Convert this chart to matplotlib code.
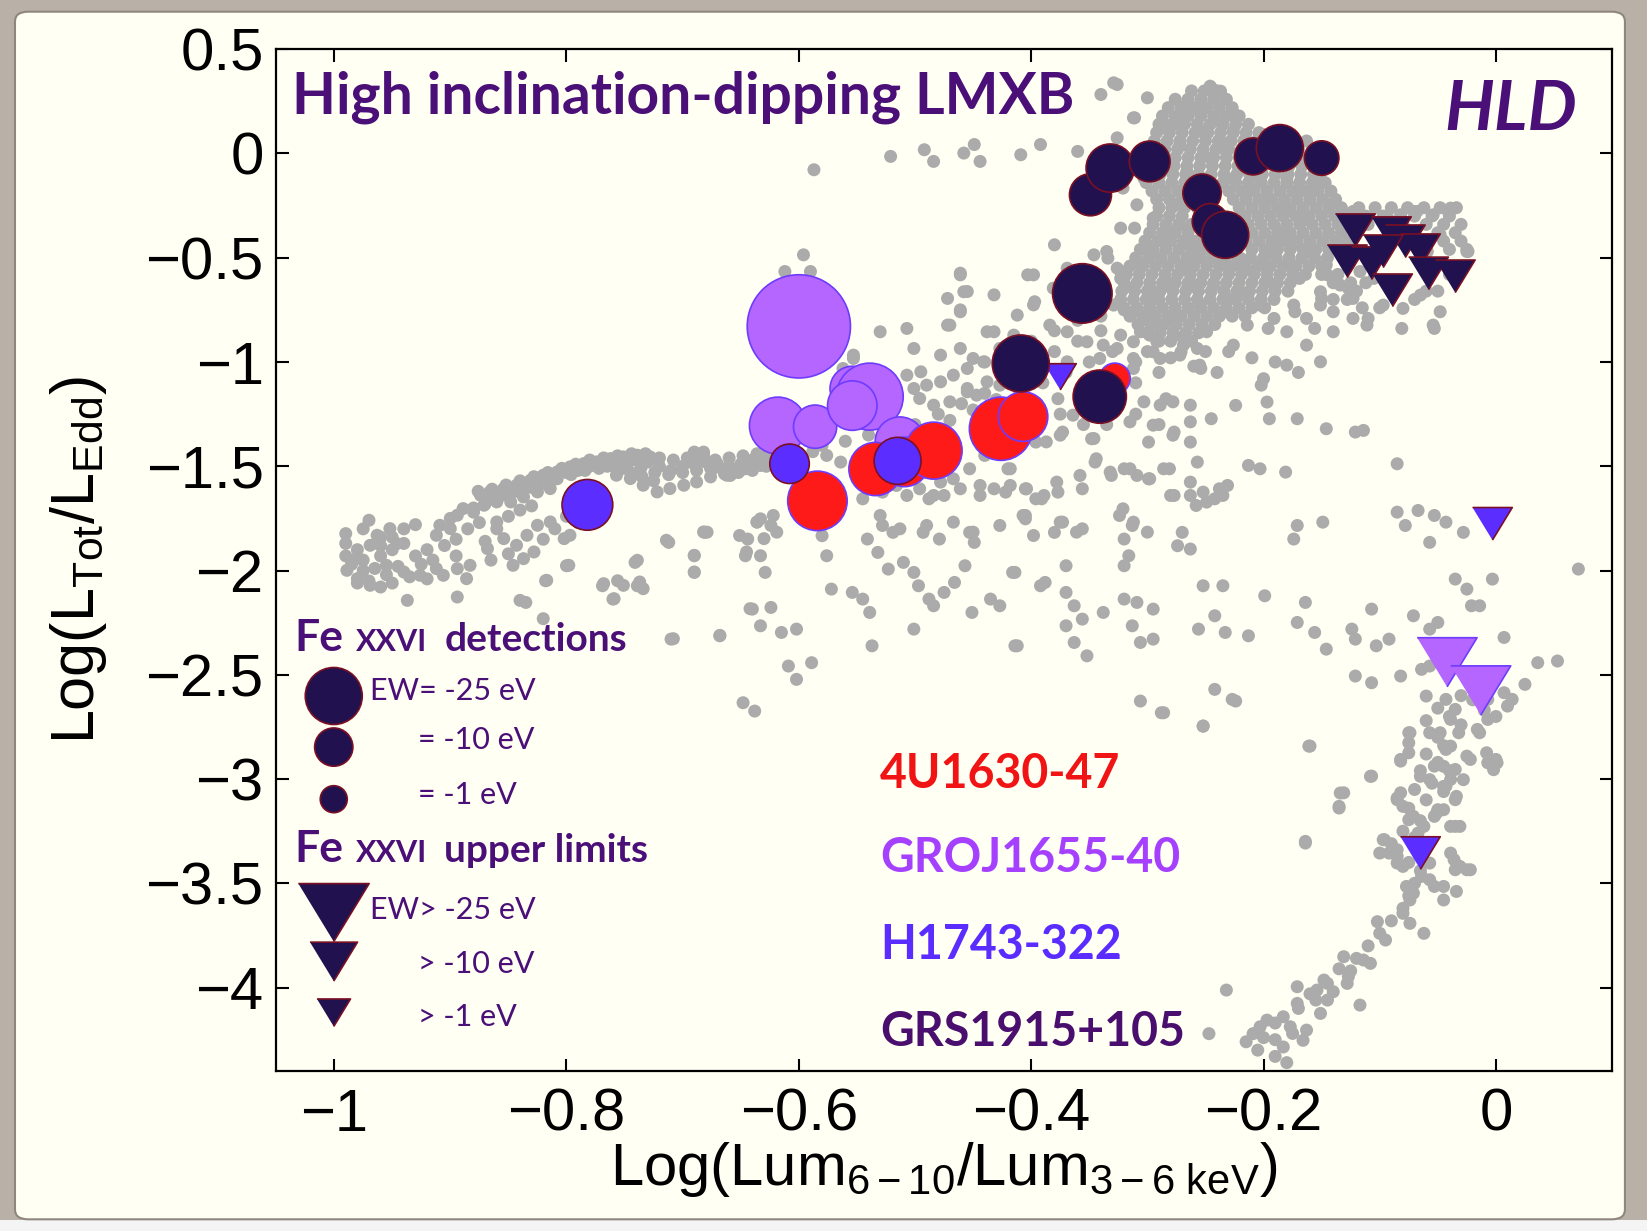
import matplotlib
matplotlib.use("Agg")
import matplotlib.pyplot as plt
from matplotlib.patches import FancyBboxPatch, Rectangle
import numpy as np

plt.rcParams['font.family'] = ['Liberation Sans', 'DejaVu Sans']
plt.rcParams['mathtext.fontset'] = 'custom'
plt.rcParams['mathtext.rm'] = 'Liberation Sans'
plt.rcParams['mathtext.it'] = 'Liberation Sans:italic'

# ---- background sample (all observations) ----
bg_x = [
    # soft-state arc
    -0.874, -0.866, -0.854, -0.843, -0.831, -0.820, -0.808, -0.797, -0.785, -0.774,
    -0.762, -0.751, -0.739, -0.728, -0.690, -0.682, -0.871, -0.860, -0.848, -0.837,
    -0.825, -0.814, -0.757, -0.745, -0.734, -0.722, -0.711, -0.699, -0.688, -0.676,
    -0.662, -0.647, -0.636,
    -0.86, -0.85, -0.84, -0.83, -0.82, -0.81, -0.80, -0.79, -0.78, -0.77,
    -0.76, -0.75, -0.74, -0.73, -0.72, -0.71, -0.70, -0.69, -0.68, -0.67,
    -0.66, -0.65, -0.64, -0.63, -0.62, -0.755, -0.745, -0.735, -0.725, -0.765,
    # left clump
    -0.990, -0.970, -0.963, -0.952, -0.946, -0.969, -0.983, -0.989, -0.980, -0.969,
    -0.960, -0.955, -0.940, -0.926, -0.912, -0.906, -0.894, -0.886, -0.883, -0.909,
    -0.900, -0.894, -0.889, -0.912, -0.868, -0.860, -0.854, -0.843, -0.834, -0.828,
    -0.846, -0.837, -0.825, -0.814, -0.802, -0.797, -0.937, -0.894, -0.840, -0.817,
    -0.798, -0.768, -0.759, -0.751, -0.739, -0.737, -0.734, -0.714, -0.690, -0.690,
    -0.682, -0.645, -0.642, -0.636, -0.630, -0.708, -0.668, -0.820,
    -0.975, -0.965, -0.955, -0.945, -0.985, -0.970, -0.930, -0.920, -0.960, -0.950,
    -0.940, -0.930, -0.900, -0.880, -0.870,
    # middle scatter
    -0.690, -0.686, -0.664, -0.646, -0.633, -0.633, -0.624, -0.644, -0.633, -0.646,
    -0.629, -0.640, -0.624, -0.633, -0.615, -0.602, -0.609, -0.602, -0.589, -0.648,
    -0.638, -0.668, -0.710, -0.690, -0.690, -0.712, -0.681, -0.741, -0.756, -0.769,
    -0.739, -0.760, -0.818, -0.800, -0.835, -0.580, -0.576, -0.572, -0.554, -0.545,
    -0.539, -0.541, -0.528, -0.519, -0.532, -0.523, -0.510, -0.501, -0.497, -0.488,
    -0.484, -0.475, -0.479, -0.493, -0.501, -0.537, -0.453, -0.449, -0.457, -0.466,
    -0.451, -0.435, -0.427, -0.414, -0.422, -0.405, -0.414, -0.392, -0.396, -0.427,
    -0.444, -0.453, -0.466, -0.484, -0.501, -0.515, -0.528, -0.545, -0.488, -0.475,
    -0.440, -0.414, -0.396,
    # rising branch
    -0.596, -0.612, -0.590, -0.461, -0.455, -0.461, -0.470, -0.432, -0.398, -0.381,
    -0.398, -0.369, -0.346, -0.326, -0.312, -0.298, -0.283, -0.269, -0.260, -0.278,
    -0.298, -0.312, -0.326, -0.341, -0.352, -0.369, -0.384, -0.398, -0.415, -0.427,
    -0.441, -0.455, -0.467, -0.478, -0.490, -0.501, -0.507, -0.496, -0.484, -0.470,
    -0.455, -0.447, -0.438, -0.427, -0.369, -0.289, -0.272, -0.257, -0.312, -0.303,
    -0.289, -0.278, -0.263, -0.263, -0.278, -0.295, -0.315, -0.346, -0.387, -0.375,
    -0.364, -0.344, -0.358, -0.378, -0.389, -0.404, -0.418, -0.418, -0.432, -0.444,
    -0.461, -0.467, -0.478, -0.484, -0.496, -0.507, -0.516, -0.530, -0.513, -0.490,
    -0.467, -0.450, -0.407, -0.375, -0.361, -0.321, -0.312, -0.300, -0.280, -0.263,
    -0.257, -0.398, -0.332, -0.315, -0.298, -0.286, -0.682, -0.674, -0.659, -0.645,
    -0.630, -0.636, -0.622, -0.619, -0.651, -0.679, -0.576, -0.564, -0.553, -0.562,
    -0.570, -0.450, -0.461, -0.412, -0.432,
    -0.58, -0.56, -0.54, -0.50, -0.48, -0.46, -0.44, -0.42, -0.40, -0.38,
    -0.36, -0.34, -0.32, -0.30, -0.33, -0.31, -0.29, -0.27, -0.25, -0.23,
    -0.21, -0.19, -0.17, -0.20,
    # upper sparse points and bright cluster
    -0.587, -0.521, -0.492, -0.484, -0.458, -0.449, -0.444, -0.409, -0.392, -0.360,
    -0.329, -0.340, -0.311, -0.245, -0.277, -0.288, -0.265, -0.254, -0.225, -0.237,
    -0.461, -0.472, -0.458, -0.461, -0.472, -0.438, -0.403, -0.397, -0.380, -0.334,
    -0.311, -0.323, -0.294, -0.300, -0.277, -0.265, -0.254, -0.219, -0.231, -0.196,
    -0.173, -0.156, -0.196, -0.150, -0.127, -0.110, -0.081, -0.053, -0.024, -0.041,
    -0.070, -0.093, -0.145, -0.185, -0.162, -0.271, -0.254, -0.202, -0.455, -0.495,
    -0.501, -0.426, -0.478, -0.507, -0.530, -0.553,
    -0.326, -0.246, -0.312, -0.286, -0.266, -0.255, -0.240, -0.226, -0.232, -0.220,
    -0.203, -0.180, -0.169, -0.163, -0.180, -0.197, -0.212, -0.232, -0.246, -0.272,
    -0.266, -0.275, -0.272, -0.263, -0.269, -0.260, -0.255, -0.249, -0.232, -0.220,
    -0.209, -0.197, -0.186, -0.174, -0.157, -0.146, -0.134, -0.151, -0.169, -0.180,
    -0.191, -0.203, -0.214, -0.226, -0.191, -0.174, -0.163, -0.180, -0.203, -0.220,
    -0.237, -0.243, -0.237, -0.255, -0.283, -0.295, -0.306, -0.323, -0.329, -0.312,
    -0.295, -0.283, -0.289, -0.306, -0.323, -0.278, -0.269, -0.255, -0.295, -0.312,
    -0.338, -0.180, -0.163, -0.140, -0.123, -0.111, -0.097, -0.080, -0.065, -0.059,
    -0.048, -0.082, -0.068, -0.054, -0.039, -0.048, -0.025, -0.054, -0.157, -0.143,
    -0.134, -0.123, -0.157, -0.151, -0.212, -0.191, -0.200, -0.237, -0.275, -0.300,
    -0.326, -0.309, -0.323, -0.335, -0.295, -0.303, -0.321, -0.151, -0.140, -0.151,
    -0.117, -0.105, -0.123,
    # hard branch towards the right
    -0.420, -0.405, -0.391, -0.377, -0.356, -0.345, -0.348, -0.331, -0.320, -0.309,
    -0.299, -0.281, -0.277, -0.263, -0.252, -0.242, -0.231, -0.213, -0.203, -0.181,
    -0.195, -0.171, -0.146, -0.121, -0.114, -0.085, -0.405, -0.373, -0.299, -0.277,
    -0.263, -0.245, -0.224, -0.197, -0.405, -0.380, -0.373, -0.356, -0.324, -0.313,
    -0.320, -0.316, -0.320, -0.270, -0.274, -0.263, -0.238, -0.235, -0.258, -0.249,
    -0.171, -0.174, -0.149, -0.416, -0.388, -0.370, -0.370, -0.363, -0.356, -0.370,
    -0.363, -0.352, -0.412, -0.338, -0.320, -0.309, -0.295, -0.313, -0.306, -0.295,
    -0.256, -0.242, -0.233, -0.252, -0.235, -0.213, -0.199, -0.171, -0.164, -0.156,
    -0.146, -0.124, -0.107, -0.121, -0.103, -0.092, -0.121, -0.107, -0.082, -0.071,
    -0.085, -0.067, -0.053, -0.043, -0.028, -0.057, -0.078, -0.035, -0.003, -0.025,
    -0.021, -0.014, 0.007, -0.050, -0.057, -0.064, -0.057, 0.036, 0.053, 0.071,
    0.025, -0.060, -0.043, -0.035, -0.007, 0.007, 0.014, -0.007, -0.014, -0.032,
    -0.050, -0.075, -0.075, -0.082, -0.043, -0.053, -0.039, -0.035, -0.025, -0.007,
    0.000, -0.107, -0.131, -0.135, -0.082, -0.085, -0.075, -0.067, -0.053, -0.050,
    -0.043, -0.035, -0.035, -0.096, -0.092, -0.085, -0.057, -0.039, -0.035, -0.025,
    -0.064, -0.053, -0.071, -0.164, -0.160, -0.227, -0.252, -0.242, -0.306, -0.288,
    -0.284, -0.377,
    # faint tail at the bottom
    -0.286, -0.252, -0.161, -0.224, -0.074, -0.057, -0.075, -0.082, -0.108, -0.134,
    -0.135, -0.065, -0.057, -0.045, -0.045, -0.034, -0.028, -0.022, -0.008, 0.001,
    -0.002, -0.039, -0.048, -0.039, -0.016, -0.085, -0.080, -0.071, -0.062, -0.051,
    -0.045, -0.039, -0.031, -0.097, -0.100, -0.085, -0.080, -0.077, -0.074, -0.080,
    -0.074, -0.057, -0.045, -0.045, -0.036, -0.031, -0.022, -0.034, -0.062, -0.102,
    -0.095, -0.131, -0.114, -0.108, -0.127, -0.128, -0.148, -0.154, -0.171, -0.145,
    -0.151, -0.171, -0.183, -0.197, -0.209, -0.203, -0.177, -0.163, -0.166, -0.183,
    -0.117, -0.232, -0.247, -0.164, -0.205, -0.190, -0.180, -0.215,
]
bg_y = [
    -1.639, -1.623, -1.607, -1.591, -1.567, -1.543, -1.527, -1.503, -1.487, -1.479,
    -1.463, -1.455, -1.447, -1.455, -1.439, -1.447, -1.687, -1.671, -1.671, -1.647,
    -1.623, -1.607, -1.543, -1.559, -1.591, -1.623, -1.607, -1.591, -1.575, -1.551,
    -1.543, -1.511, -1.495,
    -1.65, -1.63, -1.62, -1.60, -1.58, -1.56, -1.53, -1.52, -1.50, -1.49,
    -1.48, -1.47, -1.47, -1.48, -1.50, -1.52, -1.50, -1.49, -1.48, -1.49,
    -1.50, -1.49, -1.47, -1.46, -1.45, -1.52, -1.53, -1.55, -1.57, -1.50,
    -1.823, -1.759, -1.831, -1.799, -1.871, -1.879, -1.951, -1.999, -2.039, -2.071,
    -2.079, -1.975, -2.007, -2.023, -1.991, -2.023, -1.991, -2.039, -1.975, -1.783,
    -1.799, -1.735, -1.703, -1.831, -1.895, -1.767, -1.847, -1.879, -1.831, -1.911,
    -1.975, -1.943, -1.783, -1.767, -1.847, -1.831, -2.143, -2.127, -2.143, -2.047,
    -1.975, -2.063, -2.135, -2.071, -1.951, -2.055, -2.087, -1.855, -1.927, -2.007,
    -1.815, -1.911, -2.183, -1.767, -1.847, -2.327, -2.311, -2.231,
    -1.95, -1.99, -2.02, -1.98, -1.97, -2.05, -1.93, -1.90, -1.88, -1.84,
    -1.80, -1.78, -1.75, -1.72, -1.68,
    -1.432, -1.456, -1.536, -1.512, -1.496, -1.752, -1.784, -1.849, -1.929, -1.929,
    -2.009, -2.185, -2.177, -2.265, -2.297, -2.281, -2.458, -2.522, -2.442, -2.634,
    -2.674, -2.313, -2.329, -1.929, -2.009, -1.865, -1.817, -1.961, -2.049, -2.073,
    -2.073, -2.137, -2.049, -1.977, -2.153, -1.833, -1.929, -2.089, -2.105, -2.137,
    -2.201, -1.849, -1.784, -1.817, -1.913, -1.993, -1.961, -2.009, -2.073, -2.137,
    -2.169, -2.105, -1.849, -1.817, -2.281, -2.361, -1.817, -1.865, -1.977, -2.057,
    -2.201, -2.137, -2.169, -2.361, -1.624, -1.752, -2.009, -2.073, -1.656, -1.784,
    -1.592, -1.512, -1.464, -1.512, -1.560, -1.576, -1.624, -1.656, -1.656, -1.640,
    -1.448, -1.416, -1.384,
    -0.486, -0.566, -0.566, -0.574, -0.662, -0.750, -0.823, -0.855, -0.582, -0.646,
    -0.726, -0.550, -0.486, -0.550, -0.646, -0.742, -0.614, -0.550, -0.502, -0.807,
    -0.871, -0.903, -0.935, -0.983, -0.903, -0.855, -0.823, -0.935, -0.871, -0.935,
    -0.999, -1.031, -1.063, -1.095, -1.111, -1.127, -1.063, -1.175, -1.207, -1.191,
    -1.127, -1.159, -1.095, -1.111, -0.999, -0.983, -0.967, -0.935, -1.031, -1.191,
    -1.207, -1.191, -1.207, -1.287, -1.351, -1.303, -1.287, -1.367, -1.383, -1.351,
    -1.255, -1.464, -1.544, -1.576, -1.640, -1.608, -1.592, -1.512, -1.608, -1.640,
    -1.608, -1.560, -1.576, -1.640, -1.608, -1.640, -1.592, -1.736, -1.800, -1.784,
    -1.768, -1.816, -1.736, -1.768, -1.816, -1.704, -1.768, -1.816, -1.640, -1.576,
    -1.480, -1.832, -1.528, -1.512, -1.560, -1.512, -1.432, -1.512, -1.544, -1.496,
    -1.432, -1.768, -1.736, -1.816, -1.832, -1.816, -1.448, -1.480, -0.983, -1.031,
    -0.935, -0.983, -0.935, -0.775, -0.678,
    -1.40, -1.38, -1.35, -1.30, -1.25, -1.20, -1.15, -1.10, -1.05, -0.95,
    -0.90, -0.85, -0.75, -0.80, -0.95, -1.00, -0.90, -0.88, -0.95, -0.95,
    -0.98, -1.00, -1.05, -1.08,
    -0.078, -0.014, 0.018, -0.038, 0.002, 0.043, -0.038, -0.006, 0.043, 0.010,
    0.339, 0.283, 0.171, 0.315, 0.139, -0.006, 0.235, 0.107, 0.187, 0.058,
    -0.582, -0.695, -0.663, -0.759, -0.823, -0.855, -0.582, -0.711, -0.438, -0.502,
    -0.358, -0.566, -0.663, -0.438, -0.374, -0.631, -0.470, -0.534, -0.695, -0.615,
    -0.759, -0.839, -0.839, -0.695, -0.647, -0.791, -0.839, -0.839, -0.470, -0.278,
    -0.278, -0.310, -0.582, -0.374, -0.470, -0.951, -1.031, -1.111, -1.143, -1.047,
    -0.935, -0.983, -0.967, -0.839, -0.855, -0.967,
    0.331, 0.323, 0.171, 0.139, 0.235, 0.203, 0.155, 0.107, 0.010, -0.070,
    -0.118, -0.118, -0.182, -0.310, -0.278, -0.214, -0.166, -0.118, -0.022, 0.042,
    -0.086, -0.246, -0.342, -0.438, -0.534, -0.631, -0.727, -0.855, -0.759, -0.663,
    -0.566, -0.470, -0.390, -0.438, -0.470, -0.534, -0.631, -0.663, -0.599, -0.534,
    -0.631, -0.727, -0.823, -0.919, -0.791, -0.727, -0.791, -0.855, -0.534, -0.502,
    -0.534, -0.631, -0.406, -0.310, -0.406, -0.470, -0.534, -0.599, -0.727, -0.759,
    -0.695, -0.631, -0.823, -0.855, -0.871, -0.791, -0.919, -1.015, -0.951, -0.983,
    -0.919, -1.015, -0.919, -0.759, -0.791, -0.823, -0.727, -0.743, -0.679, -0.470,
    -0.759, -0.294, -0.278, -0.294, -0.262, -0.390, -0.470, -0.823, -0.166, -0.246,
    -0.294, -0.278, -0.038, -0.118, 0.010, -0.022, 0.091, 0.299, 0.171, 0.267,
    0.075, -0.246, -0.358, -0.470, -0.310, -0.118, -0.166, -0.727, -0.855, -0.999,
    -0.566, -0.599, -0.695,
    -1.512, -1.608, -1.656, -1.624, -1.608, -1.480, -1.368, -1.544, -1.512, -1.544,
    -1.560, -1.512, -1.640, -1.640, -1.624, -1.656, -1.592, -1.496, -1.512, -1.528,
    -1.272, -1.272, -1.320, -1.336, -1.328, -1.488, -1.352, -1.336, -1.384, -1.336,
    -1.384, -1.272, -1.208, -1.192, -1.736, -1.817, -1.768, -1.800, -1.736, -1.784,
    -1.849, -1.929, -1.977, -1.817, -1.881, -1.897, -1.608, -1.640, -1.688, -1.672,
    -1.784, -1.849, -1.768, -2.009, -2.057, -1.977, -2.105, -2.169, -2.233, -2.265,
    -2.345, -2.409, -2.361, -2.201, -2.137, -2.153, -2.185, -2.265, -2.345, -2.329,
    -2.281, -2.217, -2.297, -2.073, -2.073, -2.313, -2.121, -2.249, -2.153, -2.297,
    -2.377, -2.281, -2.185, -2.329, -2.361, -2.329, -2.506, -2.538, -2.506, -2.217,
    -1.720, -1.712, -1.736, -1.768, -1.817, -1.865, -1.784, -2.041, -2.041, -2.089,
    -2.169, -2.169, -2.321, -2.249, -2.281, -2.474, -2.458, -2.442, -2.434, -1.993,
    -2.546, -2.602, -2.618, -2.666, -2.618, -2.586, -2.618, -2.714, -2.778, -2.778,
    -2.794, -2.778, -2.874, -2.906, -2.858, -2.938, -3.002, -2.954, -2.890, -2.922,
    -2.906, -2.986, -3.066, -3.131, -3.066, -3.099, -3.195, -3.259, -3.179, -3.147,
    -3.034, -3.099, -3.227, -3.291, -3.355, -3.403, -3.403, -3.355, -3.435, -3.435,
    -3.467, -3.515, -3.547, -3.307, -2.842, -2.618, -2.746, -2.570, -2.626, -2.682,
    -1.176, -1.176,
    -2.682, -2.746, -2.842, -2.626, -2.778, -2.778, -2.826, -2.914, -2.987, -3.067,
    -3.139, -2.987, -3.003, -2.939, -3.035, -3.083, -3.003, -2.906, -2.874, -2.922,
    -2.955, -2.842, -2.778, -2.714, -2.762, -3.091, -3.131, -3.179, -3.227, -3.163,
    -3.147, -3.227, -3.227, -3.291, -3.355, -3.339, -3.419, -3.515, -3.580, -3.644,
    -3.692, -3.483, -3.515, -3.580, -3.387, -3.419, -3.435, -3.539, -3.740, -3.684,
    -3.772, -3.852, -3.868, -3.884, -3.948, -3.980, -3.964, -4.012, -3.996, -4.060,
    -4.124, -4.076, -4.140, -4.156, -4.221, -4.188, -4.188, -4.204, -4.253, -4.285,
    -4.084, -4.012, -4.221, -3.299, -4.300, -4.330, -4.360, -4.260,
]

# dense bright/hard cluster, one row of x values per luminosity level
cluster_rows = [
    (0.30, [-0.262, -0.251, -0.240]),
    (0.26, [-0.276, -0.265, -0.254, -0.243, -0.232]),
    (0.22, [-0.282, -0.271, -0.260, -0.249, -0.238, -0.227]),
    (0.18, [-0.287, -0.276, -0.265, -0.254, -0.243, -0.232, -0.221]),
    (0.14, [-0.290, -0.279, -0.268, -0.257, -0.246, -0.235, -0.224, -0.213]),
    (0.10, [-0.292, -0.281, -0.270, -0.259, -0.248, -0.237, -0.226, -0.215, -0.204]),
    (0.06, [-0.294, -0.283, -0.272, -0.261, -0.250, -0.239, -0.228, -0.217, -0.206,
            -0.176, -0.163]),
    (0.02, [-0.296, -0.285, -0.274, -0.263, -0.252, -0.241, -0.230, -0.219, -0.208,
            -0.197, -0.170, -0.158]),
    (-0.02, [-0.298, -0.287, -0.276, -0.265, -0.254, -0.243, -0.232, -0.221, -0.210,
             -0.199, -0.188, -0.177, -0.166, -0.155]),
    (-0.06, [-0.299, -0.288, -0.277, -0.266, -0.255, -0.244, -0.233, -0.222, -0.211,
             -0.200, -0.189, -0.178, -0.167, -0.156, -0.145]),
    (-0.10, [-0.300, -0.289, -0.278, -0.267, -0.256, -0.245, -0.234, -0.223, -0.212,
             -0.201, -0.190, -0.179, -0.168, -0.157]),
    (-0.14, [-0.301, -0.290, -0.279, -0.268, -0.257, -0.246, -0.235, -0.224, -0.213,
             -0.202, -0.191, -0.180, -0.169, -0.158, -0.147]),
    (-0.18, [-0.296, -0.285, -0.274, -0.263, -0.241, -0.230, -0.219, -0.208, -0.197,
             -0.186, -0.175, -0.164, -0.153, -0.142]),
    (-0.22, [-0.292, -0.281, -0.270, -0.259, -0.226, -0.215, -0.204, -0.193, -0.182,
             -0.171, -0.160, -0.149, -0.138]),
    (-0.26, [-0.290, -0.279, -0.268, -0.257, -0.221, -0.210, -0.199, -0.188, -0.177,
             -0.166, -0.155, -0.144, -0.133, -0.118, -0.104, -0.090, -0.076, -0.062,
             -0.048, -0.034]),
    (-0.30, [-0.292, -0.281, -0.270, -0.216, -0.205, -0.194, -0.183, -0.172, -0.161,
             -0.150, -0.139, -0.128, -0.112, -0.097, -0.070, -0.055, -0.040]),
    (-0.34, [-0.295, -0.284, -0.273, -0.262, -0.213, -0.202, -0.191, -0.180, -0.169,
             -0.158, -0.147, -0.136, -0.125, -0.110, -0.095, -0.080, -0.060, -0.045,
             -0.030]),
    (-0.38, [-0.298, -0.287, -0.276, -0.265, -0.210, -0.199, -0.188, -0.177, -0.166,
             -0.155, -0.144, -0.133, -0.122, -0.050, -0.035]),
    (-0.42, [-0.302, -0.291, -0.280, -0.269, -0.258, -0.215, -0.204, -0.193, -0.182,
             -0.171, -0.160, -0.149, -0.138, -0.127, -0.045, -0.030]),
    (-0.46, [-0.306, -0.295, -0.284, -0.273, -0.262, -0.251, -0.240, -0.210, -0.199,
             -0.188, -0.177, -0.166, -0.155, -0.144, -0.133, -0.040, -0.025]),
    (-0.50, [-0.310, -0.299, -0.288, -0.277, -0.266, -0.255, -0.244, -0.233, -0.222,
             -0.211, -0.200, -0.189, -0.178, -0.167, -0.156, -0.145]),
    (-0.54, [-0.315, -0.304, -0.293, -0.282, -0.271, -0.260, -0.249, -0.238, -0.227,
             -0.216, -0.205, -0.194, -0.183, -0.172, -0.161, -0.150]),
    (-0.58, [-0.318, -0.307, -0.296, -0.285, -0.274, -0.263, -0.252, -0.241, -0.230,
             -0.219, -0.208, -0.197, -0.186, -0.175, -0.164, -0.150, -0.136, -0.040]),
    (-0.62, [-0.320, -0.309, -0.298, -0.287, -0.276, -0.265, -0.254, -0.243, -0.232,
             -0.221, -0.210, -0.199, -0.188, -0.177, -0.140, -0.125, -0.112]),
    (-0.66, [-0.322, -0.311, -0.300, -0.289, -0.278, -0.267, -0.256, -0.245, -0.234,
             -0.223, -0.212, -0.201, -0.190, -0.179, -0.120, -0.060, -0.050]),
    (-0.70, [-0.323, -0.312, -0.301, -0.290, -0.279, -0.268, -0.257, -0.246, -0.235,
             -0.224, -0.213, -0.202, -0.191, -0.140, -0.128, -0.070]),
    (-0.74, [-0.320, -0.309, -0.298, -0.287, -0.276, -0.265, -0.254, -0.243, -0.232,
             -0.221, -0.210, -0.199, -0.115, -0.100]),
    (-0.78, [-0.315, -0.304, -0.293, -0.282, -0.271, -0.260, -0.249, -0.238, -0.227,
             -0.216]),
    (-0.82, [-0.308, -0.297, -0.286, -0.275, -0.264, -0.253, -0.242]),
    (-0.86, [-0.300, -0.289, -0.278, -0.267, -0.256]),
    (-0.90, [-0.292, -0.280, -0.262]),
]

# extra points filling the soft arc, the left clump and the middle band
arc_x = [
    -0.880, -0.868, -0.856, -0.844, -0.832, -0.820, -0.808, -0.796, -0.784, -0.772,
    -0.760, -0.748, -0.736, -0.724, -0.712, -0.700, -0.688, -0.676, -0.664, -0.652,
    -0.640, -0.628,
    -0.876, -0.864, -0.852, -0.840, -0.828, -0.816, -0.804, -0.792, -0.780, -0.768,
    -0.756, -0.744, -0.732, -0.720, -0.708, -0.696, -0.684, -0.672, -0.660, -0.648,
    -0.636, -0.624, -0.612, -0.600, -0.588,
    -0.990, -0.990, -0.980, -0.975, -0.960, -0.950, -0.940, -0.935, -0.925, -0.915,
    -0.905, -0.895, -0.895, -0.885, -0.875, -0.870, -0.860, -0.850, -0.840, -0.830,
    -0.820, -0.810, -0.800, -0.790, -0.980, -0.950, -0.920, -0.975, -0.960, -0.865,
    -0.850,
    -0.470, -0.450, -0.430, -0.410, -0.390, -0.370, -0.350, -0.330, -0.310, -0.290,
    -0.300, -0.280, -0.260, -0.240, -0.360, -0.340, -0.380, -0.400, -0.420, -0.440,
    -0.395, -0.375, -0.355, -0.335, -0.310, -0.290,
]
arc_y = [
    -1.70, -1.66, -1.64, -1.62, -1.60, -1.58, -1.56, -1.54, -1.52, -1.51,
    -1.50, -1.50, -1.51, -1.53, -1.54, -1.53, -1.52, -1.51, -1.52, -1.53,
    -1.52, -1.50,
    -1.62, -1.61, -1.59, -1.57, -1.55, -1.53, -1.51, -1.49, -1.47, -1.46,
    -1.45, -1.44, -1.44, -1.46, -1.47, -1.46, -1.46, -1.47, -1.46, -1.45,
    -1.44, -1.43, -1.43, -1.44, -1.43,
    -1.87, -1.93, -1.90, -2.00, -1.93, -1.90, -1.87, -2.03, -1.97, -1.95,
    -1.88, -1.85, -1.93, -1.80, -1.77, -1.86, -1.80, -1.74, -1.71, -1.69,
    -1.85, -1.80, -1.74, -1.77, -2.06, -2.06, -2.04, -1.80, -1.84, -1.95,
    -1.92,
    -1.28, -1.23, -1.18, -1.14, -1.10, -1.05, -1.00, -1.05, -1.10, -1.05,
    -0.95, -0.98, -1.02, -1.05, -0.80, -0.78, -0.85, -0.90, -0.95, -1.00,
    -1.20, -1.25, -1.30, -1.30, -1.25, -1.30,
]

# extra points along the faint hard tail on the right
tail_x = [
    -0.050, -0.040, -0.030, -0.060, -0.050, -0.045, -0.060, -0.050, -0.040, -0.065,
    -0.055, -0.045, -0.070, -0.060, -0.075, -0.065, -0.080, -0.070, -0.090, -0.085,
    -0.075, -0.065, -0.070, -0.075, -0.080, -0.090, -0.100, -0.110, -0.120, -0.135,
    -0.145, -0.160, -0.170, -0.190, -0.200, -0.190, -0.175, -0.155, -0.140, -0.125,
    -0.020, -0.010, 0.000, -0.030, 0.010,
]
tail_y = [
    -2.66, -2.70, -2.74, -2.72, -2.80, -2.84, -2.88, -2.92, -2.96, -2.96,
    -3.02, -3.06, -3.05, -3.10, -3.14, -3.20, -3.25, -3.28, -3.31, -3.37,
    -3.40, -3.44, -3.50, -3.56, -3.62, -3.68, -3.74, -3.80, -3.86, -3.91,
    -3.98, -4.03, -4.10, -4.17, -4.24, -4.25, -4.22, -4.06, -4.02, -3.92,
    -2.62, -2.67, -2.70, -2.60, -2.65,
]

# ---- Fe XXVI detections: x, y and equivalent width |EW| (eV) ----
grs_x = [-0.349, -0.332, -0.298, -0.253, -0.246, -0.233, -0.209, -0.186, -0.150,
         -0.356, -0.409, -0.341]
grs_y = [-0.198, -0.070, -0.038, -0.190, -0.326, -0.390, -0.014, 0.026, -0.022,
         -0.671, -1.007, -1.166]
grs_ew = [13, 18, 12, 10, 8, 17, 9, 17, 7, 27, 25, 22]

u1630_x = [-0.584, -0.534, -0.509, -0.484, -0.426, -0.407, -0.328]
u1630_y = [-1.666, -1.513, -1.479, -1.425, -1.320, -1.262, -1.079]
u1630_ew = [27, 22, 19, 25, 30, 19, 4]

gro_x = [-0.600, -0.618, -0.586, -0.554, -0.539, -0.554, -0.513]
gro_y = [-0.829, -1.305, -1.310, -1.127, -1.166, -1.209, -1.382]
gro_ew = [62, 25, 14, 15, 33, 19, 19]

h1743_x = [-0.782, -0.608, -0.515]
h1743_y = [-1.685, -1.488, -1.474]
h1743_ew = [20, 11, 17]

# ---- Fe XXVI upper limits ----
grs_ul_x = [-0.121, -0.090, -0.078, -0.065, -0.128, -0.107, -0.089, -0.058, -0.035, -0.097]
grs_ul_y = [-0.368, -0.382, -0.421, -0.464, -0.517, -0.526, -0.656, -0.575, -0.589, -0.469]
grs_ul_ew = [5, 5, 5, 5, 5, 5, 5, 5, 5, 5]

gro_ul_x = [-0.042, -0.013]
gro_ul_y = [-2.44, -2.575]
gro_ul_ew = [18, 18]

h1743_ul_x = [-0.375, -0.003, -0.065]
h1743_ul_y = [-1.071, -1.776, -3.355]
h1743_ul_ew = [0, 5, 5]

legend_ew = [25, 10, 1]

x_ticks = [-1, -0.8, -0.6, -0.4, -0.2, 0]
x_ticklabels = ['\u22121', '\u22120.8', '\u22120.6', '\u22120.4', '\u22120.2', '0']
y_ticks = [0.5, 0, -0.5, -1, -1.5, -2, -2.5, -3, -3.5, -4]
y_ticklabels = ['0.5', '0', '\u22120.5', '\u22121', '\u22121.5', '\u22122', '\u22122.5',
                '\u22123', '\u22123.5', '\u22124']

DPI = 100
PT = 72.0 / DPI
tri = [(-1, 0.82), (1, 0.82), (0, -0.82)]


def circle_size(ew):
    d = 25.75 + 1.25 * np.abs(np.asarray(ew, dtype=float))
    return (d * PT) ** 2


def tri_size(ew):
    d = 32 + 1.55 * np.abs(np.asarray(ew, dtype=float))
    return (d * PT) ** 2


navy = '#22114f'
navy_edge = '#7a1024'
red = '#ff1a1a'
lilac = '#b466ff'
violet = '#5b2dff'
violet_edge = '#6e3cff'
purple_txt = '#4b0f78'
cream = '#fffff3'

all_x = list(bg_x) + list(arc_x) + list(tail_x)
all_y = list(bg_y) + list(arc_y) + list(tail_y)
for yy, xs in cluster_rows:
    all_x += xs
    all_y += [yy] * len(xs)

fig = plt.figure(figsize=(16.47, 12.31), dpi=DPI)
fig.patch.set_facecolor('#b9b1a7')
fig.patches.append(Rectangle((0, 0), 1, 0.009, transform=fig.transFigure,
                             facecolor='#f4f4f4', edgecolor='none', zorder=-10))
fig.patches.append(FancyBboxPatch((0.0091, 0.0095), 0.9775, 0.981,
                                  boxstyle='round,pad=0,rounding_size=0.008',
                                  transform=fig.transFigure, facecolor=cream,
                                  edgecolor='#8f877d', linewidth=1.5, zorder=-10))

ax = fig.add_axes([0.1676, 0.130, 0.8112, 0.830])
ax.set_facecolor(cream)

ax.scatter(all_x, all_y, s=(13 * PT) ** 2, c='#ababab', edgecolors='none', zorder=1)

ax.scatter(gro_x, gro_y, s=circle_size(gro_ew), c=lilac, edgecolors=violet_edge,
           linewidths=1.2, zorder=2)
ax.scatter(gro_ul_x, gro_ul_y, s=tri_size(gro_ul_ew), marker=tri, c=lilac,
           edgecolors=violet_edge, linewidths=1.2, zorder=2)
ax.scatter(u1630_x, u1630_y, s=circle_size(u1630_ew), c=red, edgecolors=violet_edge,
           linewidths=1.2, zorder=3)
ax.scatter(h1743_x, h1743_y, s=circle_size(h1743_ew), c=violet, edgecolors=navy_edge,
           linewidths=1.2, zorder=4)
ax.scatter(h1743_ul_x, h1743_ul_y, s=tri_size(h1743_ul_ew), marker=tri, c=violet,
           edgecolors=navy_edge, linewidths=1.2, zorder=4)
ax.scatter(grs_x, grs_y, s=circle_size(grs_ew), c=navy, edgecolors=navy_edge,
           linewidths=1.2, zorder=5)
ax.scatter(grs_ul_x, grs_ul_y, s=tri_size(grs_ul_ew), marker=tri, c=navy,
           edgecolors=navy_edge, linewidths=1.2, zorder=5)

# legend keys for the marker size scale
lx = [0.0432] * 3
ax.scatter(lx, [0.367, 0.317, 0.266], s=circle_size(legend_ew), c=navy,
           edgecolors=navy_edge, linewidths=1.2, transform=ax.transAxes, zorder=6,
           clip_on=False)
ax.scatter(lx, [0.155, 0.107, 0.057], s=tri_size(legend_ew), marker=tri, c=navy,
           edgecolors=navy_edge, linewidths=1.2, transform=ax.transAxes, zorder=6,
           clip_on=False)

ax.set_xlim(-1.05, 0.1)
ax.set_ylim(-4.4, 0.5)
ax.set_xticks(x_ticks)
ax.set_xticklabels(x_ticklabels)
ax.set_yticks(y_ticks)
ax.set_yticklabels(y_ticklabels)
ax.tick_params(direction='in', length=9, width=1.5, top=True, right=True,
               labelsize=43, colors='black')
ax.tick_params(axis='x', pad=12)
ax.tick_params(axis='y', pad=9)
for sp in ax.spines.values():
    sp.set_linewidth(1.6)

ax.set_xlabel('Log(Lum$_{\\mathrm{6\u221210}}$/Lum$_{\\mathrm{3\u22126\\ keV}}$)', fontsize=43)
ax.set_ylabel('Log(L$_{\\mathrm{Tot}}$/L$_{\\mathrm{Edd}}$)', fontsize=44)
ax.xaxis.set_label_coords(0.5, -0.068)
ax.yaxis.set_label_coords(-0.125, 0.5)

lato = ['Lato', 'DejaVu Sans']
ax.text(0.0118, 0.953, 'High inclination-dipping LMXB', transform=ax.transAxes,
        fontsize=41, fontweight='bold', color=purple_txt, family=lato,
        ha='left', va='center')
ax.text(0.974, 0.940, 'HLD', transform=ax.transAxes, fontsize=50, fontweight='bold',
        style='italic', color=purple_txt, family=lato, ha='right', va='center')

for yb, rest in [(0.411, 'detections'), (0.2045, 'upper limits')]:
    ax.text(0.0134, yb, 'Fe', transform=ax.transAxes, fontsize=32, fontweight='bold',
            color=purple_txt, family=lato, va='baseline')
    ax.text(0.060, yb, 'XXVI', transform=ax.transAxes, fontsize=22, fontweight='bold',
            color=purple_txt, family=lato, va='baseline')
    ax.text(0.126, yb, rest, transform=ax.transAxes, fontsize=28,
            fontweight='bold', color=purple_txt, family=lato, va='baseline')

for txt, xx, yy in [('EW= -25 eV', 0.070, 0.372), ('= -10 eV', 0.106, 0.324),
                    ('= -1 eV', 0.106, 0.270), ('EW> -25 eV', 0.070, 0.158),
                    ('> -10 eV', 0.106, 0.105), ('> -1 eV', 0.106, 0.053)]:
    ax.text(xx, yy, txt, transform=ax.transAxes, fontsize=22, color=purple_txt,
            family=lato, ha='left', va='center')

for name, col, yy in [('4U1630-47', '#f01414', 0.291), ('GROJ1655-40', '#a640ff', 0.208),
                      ('H1743-322', '#5a2cff', 0.123), ('GRS1915+105', '#4a0f6e', 0.038)]:
    ax.text(0.452, yy, name, transform=ax.transAxes, fontsize=33.5, fontweight='bold',
            color=col, family=lato, ha='left', va='center')

fig.savefig('out.png', dpi=DPI, facecolor=fig.get_facecolor())
